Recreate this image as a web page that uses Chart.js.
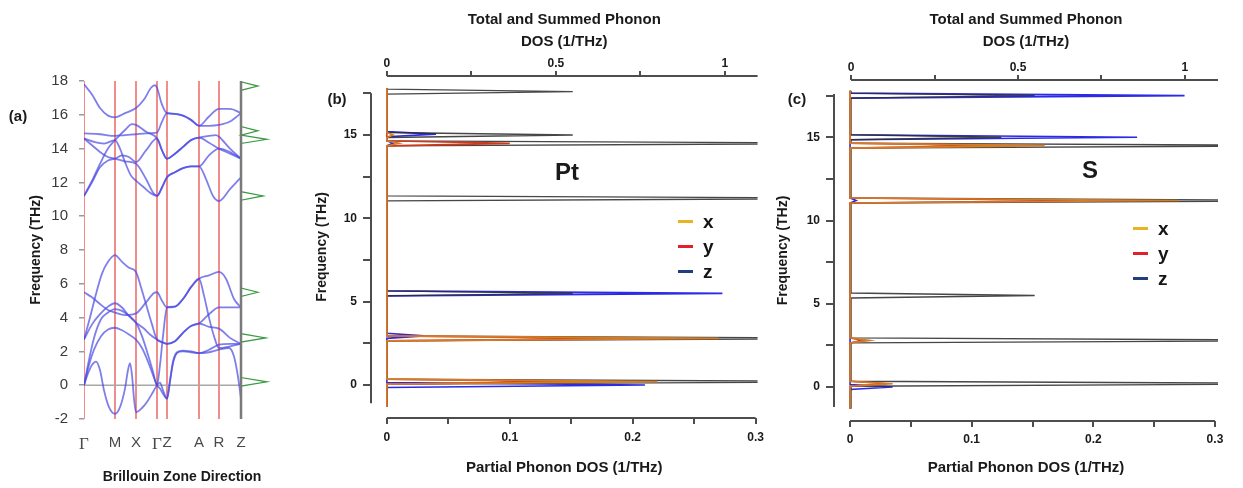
<!DOCTYPE html>
<html>
<head>
<meta charset="utf-8">
<title>PtS2 phonons</title>
<script src="https://cdn.jsdelivr.net/npm/chart.js@4.4.1/dist/chart.umd.min.js"></script>
<style>
  body { margin: 0; background: #fff; font-family: "Liberation Sans", Arial, sans-serif; }
  #wrap { position: relative; width: 1243px; height: 488px; overflow: hidden; background: #fff; }
  #wrap canvas { position: absolute; top: 0; }
  .lbl { position: absolute; transform: translate(-50%, -50%); font-weight: bold; color: #1a1a1a; white-space: nowrap; }
  .legend { position: absolute; font-weight: bold; font-size: 19px; color: #151515; }
  .legend div { height: 25px; line-height: 25px; display: flex; align-items: center; }
  .legend span.sw { display: inline-block; width: 15px; height: 3px; margin-right: 10px; }
</style>
</head>
<body>
<div id="wrap">
  <canvas id="bands" width="300" height="488" style="left:0px"></canvas>
  <canvas id="dosPt" width="470" height="488" style="left:300px"></canvas>
  <canvas id="dosS" width="473" height="488" style="left:770px"></canvas>
  <div class="lbl" style="left:18px;top:115px;font-size:15px">(a)</div>
  <div class="lbl" style="left:337px;top:98px;font-size:15px">(b)</div>
  <div class="lbl" style="left:797px;top:98px;font-size:15px">(c)</div>
  <div class="lbl" style="left:567px;top:172px;font-size:24px">Pt</div>
  <div class="lbl" style="left:1090px;top:170px;font-size:24px">S</div>
  <div class="legend" id="legPt" style="left:678px;top:209px"></div>
  <div class="legend" id="legS" style="left:1133px;top:216px"></div>
</div>
<script>
// ---- (a) dispersion along the high-symmetry path ----
const kPath = [0, 31, 52, 73, 83, 115, 135, 157];
const kNames = ['Γ', 'M', 'X', 'Γ', 'Z', 'A', 'R', 'Z'];
const freqTicksA = [-2, 0, 2, 4, 6, 8, 10, 12, 14, 16, 18];

// acoustic / low optical branches, [k, THz]
const bandL1 = [[0,0],[4,0.7],[8,1.2],[12,1.4],[16,0.9],[20,-0.3],[25,-1.3],[31,-1.7],[36,-1.3],[41,-0.2],[44,0.9],[46,1.3],[48,0.6],[50,-0.8],[52,-1.6],[58,-1.35],[64,-0.9],[69,-0.4],[73,0],[76,0.15],[79,-0.3],[83,-0.8],[86,0.2],[89,1.4],[93,1.95],[99,2.05],[107,2.0],[115,1.9],[125,1.95],[135,2.1],[145,2.2],[150,1.7],[154,0.5],[157,-0.8]];
const bandL2 = [[0,0],[5,1.2],[10,2.1],[17,2.9],[24,3.3],[31,3.4],[38,3.25],[45,3.0],[52,2.7],[58,2.2],[64,1.4],[69,0.6],[73,0],[76,-0.2],[79,-0.5],[83,-0.8],[86,0.3],[89,1.3],[93,1.9],[99,2.0],[107,1.95],[115,1.9],[125,2.1],[135,2.4],[146,2.45],[157,2.45]];
const bandL3 = [[0,0],[5,1.5],[10,2.8],[17,3.9],[24,4.3],[31,4.5],[38,4.4],[45,4.1],[52,3.7],[58,2.9],[64,1.8],[69,0.8],[73,0],[76,1.2],[79,2.9],[83,4.6],[91,4.65],[99,5.1],[107,5.8],[115,6.3],[120,5.3],[125,4.0],[130,2.9],[135,2.2],[146,2.3],[157,2.45]];
const bandL4 = [[0,2.7],[8,3.6],[16,4.2],[24,4.65],[31,4.85],[38,4.6],[45,4.1],[52,3.7],[59,3.4],[66,3.0],[73,2.7],[78,2.55],[83,2.45],[91,2.6],[99,3.1],[107,3.5],[115,3.65],[125,4.2],[135,4.6],[146,4.6],[157,4.6]];
const bandL5 = [[0,5.5],[8,5.2],[16,4.8],[24,4.45],[31,4.3],[41,4.15],[52,4.25],[62,4.9],[70,5.45],[73,5.5],[78,5.0],[83,4.6],[91,4.65],[99,5.1],[107,5.8],[115,6.3],[125,6.5],[135,6.7],[142,6.3],[150,5.1],[157,4.6]];
const bandL6 = [[0,2.7],[6,4.0],[12,5.4],[18,6.6],[24,7.3],[31,7.7],[38,7.3],[45,6.95],[52,6.7],[57,5.8],[62,4.8],[68,3.6],[73,2.7],[78,2.55],[83,2.45],[91,2.6],[99,3.1],[107,3.5],[115,3.65],[125,3.45],[135,3.35],[146,2.8],[157,2.45]];
// high optical branches
const bandH1 = [[0,17.8],[8,17.2],[16,16.4],[24,15.95],[31,15.85],[41,16.1],[52,16.4],[60,16.9],[67,17.6],[71,17.75],[73,17.6],[78,16.6],[83,16.1],[91,16.05],[99,15.95],[107,15.7],[115,15.35],[125,15.9],[135,16.35],[146,16.35],[157,16.1]];
const bandH2 = [[0,14.9],[16,14.85],[31,14.75],[41,14.8],[52,14.85],[62,14.9],[73,14.95],[78,15.6],[83,16.1],[91,16.05],[99,15.95],[107,15.7],[115,15.35],[125,15.35],[135,15.4],[146,15.6],[157,16.1]];
const bandH3 = [[0,11.2],[8,12.1],[16,13.1],[24,14.0],[31,14.5],[41,15.1],[48,15.45],[52,15.4],[62,15.0],[73,14.6],[78,13.9],[83,13.4],[91,13.7],[99,14.1],[107,14.5],[115,14.65],[125,14.75],[132,14.8],[135,14.7],[146,14.0],[157,13.4]];
const bandH4 = [[0,14.6],[8,14.2],[16,13.8],[24,13.5],[31,13.4],[41,13.25],[52,13.1],[62,12.2],[69,11.4],[73,11.2],[78,11.7],[83,12.3],[91,12.6],[99,12.85],[107,12.95],[115,12.95],[122,12.2],[129,11.2],[135,10.9],[146,11.6],[157,12.3]];
const bandH5 = [[0,14.6],[10,14.4],[20,14.3],[31,14.5],[36,14.0],[41,13.2],[47,12.4],[52,12.1],[60,11.7],[67,11.35],[73,11.2],[78,11.7],[83,12.3],[91,12.6],[99,12.85],[107,12.95],[115,12.95],[125,13.6],[135,14.0],[146,13.8],[157,13.4]];
const bandH6 = [[0,11.2],[8,12.0],[16,12.9],[24,13.3],[31,13.4],[38,13.6],[45,13.5],[52,13.2],[62,13.9],[73,14.6],[78,13.9],[83,13.4],[91,13.7],[99,14.1],[107,14.5],[115,14.65],[125,14.35],[135,14.0],[146,13.7],[157,13.4]];
const bands = [bandL1, bandL2, bandL3, bandL4, bandL5, bandL6, bandH1, bandH2, bandH3, bandH4, bandH5, bandH6];

// total DOS drawn beside the dispersion (relative units)
const dosFreqA = [0.2, 2.8, 5.5, 11.2, 14.55, 15.05, 17.7];
const dosPeakA = [1.0, 0.95, 0.65, 0.85, 1.0, 0.65, 0.65];

// ---- (b) Pt and (c) S projected DOS ----
const components = ['x', 'y', 'z'];
const ptFreq  = [0.2, 2.8, 5.5, 11.2, 14.5, 15.0, 17.6];
const ptFreqZ = [0.0, 2.95, 5.5, 11.2, 14.5, 15.05, 17.6];
const ptTotal = [1.5, 1.5, 0.55, 1.5, 1.5, 0.55, 0.55];
const ptX     = [0.22, 0.27, 0, 0, 0.01, 0.005, 0];
const ptY     = [0.15, 0.2, 0, 0, 0.1, 0, 0];
const ptZ     = [0.21, 0.03, 0.273, 0, 0.005, 0.04, 0];
const ptSpan  = [-1.3, 17.8];

const sFreq  = [0.2, 2.8, 5.5, 11.2, 14.5, 15.0, 17.5];
const sFreqZ = [0.0, 2.8, 5.5, 11.2, 14.5, 15.0, 17.5];
const sTotal = [1.5, 1.5, 0.55, 1.5, 1.5, 0.45, 0.55];
const sX     = [0.035, 0.016, 0, 0.27, 0.16, 0, 0];
const sY     = [0.03, 0.01, 0, 0.2, 0.12, 0, 0];
const sZ     = [0.035, 0, 0, 0.005, 0, 0.236, 0.275];
const sSpan  = [-1.3, 17.8];

const freqTicksDos = [0, 2.5, 5, 7.5, 10, 12.5, 15, 17.5];
const partialTicks = [0, 0.05, 0.1, 0.15, 0.2, 0.25, 0.3];
const partialLabels = [0, 0.1, 0.2, 0.3];
const totalTicks = [0, 0.25, 0.5, 0.75, 1];
const totalLabels = [0, 0.5, 1];

// -------------------------------------------------------------
const sans = 'Liberation Sans';
const axisColor = '#4d4d4d';
const spikeColors = { x: '#d47c26', y: '#cc3a1c', z: '#2b2be6' };
const legendColors = { x: '#e8b424', y: '#e2202a', z: '#1f3f7f' };

// a DOS curve made of narrow peaks on a zero baseline, walked along frequency
function spikes(freqs, heights, span, hw) {
  const pts = [{ x: 0, y: span[0] }];
  freqs.forEach((f, i) => {
    pts.push({ x: 0, y: f - hw }, { x: heights[i], y: f }, { x: 0, y: f + hw });
  });
  pts.push({ x: 0, y: span[1] });
  return pts;
}

function line(pts, color, width, extra) {
  return Object.assign({
    data: pts.map(p => Array.isArray(p) ? { x: p[0], y: p[1] } : p),
    showLine: true, pointRadius: 0, fill: false,
    borderColor: color, borderWidth: width
  }, extra || {});
}

Chart.defaults.font.family = sans;
Chart.defaults.animation = false;
Chart.defaults.events = [];
Chart.defaults.plugins.legend.display = false;
Chart.defaults.plugins.tooltip.enabled = false;

// ---- panel (a) ----
const kMax = 196, dosPx = 26;
const kEnd = kPath[kPath.length - 1];
const aSets = [];
kPath.slice(0, -1).forEach(k => aSets.push(line([[k, -2], [k, 18]], 'rgba(236,96,96,0.8)', 1.8, { order: 5 })));
aSets.push(line([[0, 0], [kEnd, 0]], '#a8a8a8', 1.5, { order: 4 }));
bands.forEach(b => aSets.push(line(b, 'rgba(72,72,226,0.7)', 1.8, { order: 3, cubicInterpolationMode: 'monotone' })));
aSets.push(line(spikes(dosFreqA, dosPeakA, [-2, 18], 0.25), '#3c9a44', 1.2, { order: 2, xAxisID: 'xd' }));
aSets.push(line([[kEnd, -2], [kEnd, 18]], '#7a7a7a', 2.5, { order: 1 }));

new Chart(document.getElementById('bands'), {
  type: 'scatter',
  data: { datasets: aSets },
  options: {
    responsive: false, devicePixelRatio: 1,
    layout: { padding: { top: 81, right: 300 - 84 - kMax, left: 0, bottom: 0 } },
    scales: {
      x: {
        type: 'linear', min: 0, max: kMax,
        afterBuildTicks: s => { s.ticks = kPath.map(v => ({ value: v })); },
        afterFit: s => { s.height = 69; },
        grid: { display: false, drawTicks: false }, border: { display: false },
        ticks: {
          autoSkip: false, maxRotation: 0, padding: 15, color: '#4a4a4a',
          callback: (v, i) => kNames[i],
          font: c => kNames[c.index] === 'Γ' ? { family: 'Liberation Serif', size: 17 } : { family: sans, size: 15 }
        },
        title: { display: true, text: 'Brillouin Zone Direction', color: '#1a1a1a',
                 font: { family: sans, size: 14, weight: 'bold' }, padding: { top: 0, bottom: 2 } }
      },
      xd: { type: 'linear', display: false, min: -kEnd / dosPx, max: (kMax - kEnd) / dosPx },
      y: {
        min: -2, max: 18,
        afterBuildTicks: s => { s.ticks = freqTicksA.map(v => ({ value: v })); },
        afterFit: s => { s.width = 84; },
        grid: { drawOnChartArea: false, tickLength: 5, color: '#9a9a9a', lineWidth: 1.5 },
        border: { display: false },
        ticks: { padding: 11, color: '#3a3a3a', font: { family: sans, size: 15 } },
        title: { display: true, text: 'Frequency (THz)', color: '#1a1a1a',
                 font: { family: sans, size: 14, weight: 'bold' }, padding: { top: 28, bottom: 0 } }
      }
    }
  }
});

// ---- panels (b), (c) ----
const floatingAxes = {
  id: 'floatingAxes',
  beforeDatasetsDraw(chart, args, opts) {
    const { ctx, chartArea: a, scales } = chart;
    ctx.save();
    ctx.strokeStyle = axisColor;
    ctx.lineWidth = 2;
    ctx.beginPath();
    ctx.moveTo(a.left, scales.y.getPixelForValue(opts.yFrom));
    ctx.lineTo(a.left, scales.y.getPixelForValue(opts.yTo));
    ctx.moveTo(scales.x.getPixelForValue(0), a.bottom);
    ctx.lineTo(scales.x.getPixelForValue(0.3), a.bottom);
    ctx.moveTo(scales.x2.getPixelForValue(0), a.top);
    ctx.lineTo(a.right, a.top);
    ctx.stroke();
    ctx.restore();
  }
};

function dosChart(id, freqs, freqsZ, total, px, py, pz, span, g) {
  const hw = 0.15;
  // z lies underneath the total; x and y sit on top of it
  const sets = [
    line(spikes(freqsZ, pz, span, hw), spikeColors.z, 1.6, { label: 'z', xAxisID: 'x', order: 4 }),
    line(spikes(freqs, total, span, hw), 'rgba(45,45,45,0.88)', 1.4, { label: 'total', xAxisID: 'x2', order: 3 }),
    line(spikes(freqs, py, span, hw), spikeColors.y, 1.6, { label: 'y', xAxisID: 'x', order: 2 }),
    line(spikes(freqs, px, span, hw), spikeColors.x, 1.6, { label: 'x', xAxisID: 'x', order: 1 })
  ];
  const tickFont = { family: sans, size: 12, weight: 'bold' };
  const titleFont = { family: sans, size: 15, weight: 'bold' };
  const grid = len => ({ drawOnChartArea: false, tickLength: len, color: axisColor, lineWidth: 2 });
  return new Chart(document.getElementById(id), {
    type: 'scatter',
    data: { datasets: sets },
    plugins: [floatingAxes],
    options: {
      responsive: false, devicePixelRatio: 1,
      layout: { padding: { top: 0, right: g.padRight, left: 0, bottom: 0 } },
      plugins: { floatingAxes: { yFrom: g.axisY[0], yTo: g.axisY[1] } },
      scales: {
        x: {
          type: 'linear', position: 'bottom', min: g.x[0], max: g.x[1],
          afterBuildTicks: s => { s.ticks = partialTicks.map(v => ({ value: v })); },
          afterFit: s => { s.height = g.bottomH; },
          grid: grid(6), border: { display: false },
          ticks: { autoSkip: false, maxRotation: 0, padding: g.bottomPad, color: '#1a1a1a', font: tickFont,
                   callback: v => partialLabels.includes(v) ? String(v) : '' },
          title: { display: true, text: 'Partial Phonon DOS (1/THz)', color: '#1a1a1a', font: titleFont,
                   padding: { top: 0, bottom: 11 } }
        },
        x2: {
          type: 'linear', position: 'top', min: g.x2[0], max: g.x2[1],
          afterBuildTicks: s => { s.ticks = totalTicks.map(v => ({ value: v })); },
          afterFit: s => { s.height = g.topH; },
          grid: grid(5), border: { display: false },
          ticks: { autoSkip: false, maxRotation: 0, padding: 0, color: '#1a1a1a', font: tickFont,
                   callback: v => totalLabels.includes(v) ? String(v) : '' },
          title: { display: true, text: ['Total and Summed Phonon', 'DOS (1/THz)'], color: '#1a1a1a',
                   font: Object.assign({ lineHeight: '22px' }, titleFont), padding: { top: 9, bottom: 0 } }
        },
        y: {
          min: g.y[0], max: g.y[1],
          afterBuildTicks: s => { s.ticks = freqTicksDos.map(v => ({ value: v })); },
          afterFit: s => { s.width = g.leftW; },
          grid: grid(8), border: { display: false },
          ticks: { padding: 6, color: '#1a1a1a', font: tickFont, callback: v => v % 5 === 0 ? String(v) : '' },
          title: { display: true, text: 'Frequency (THz)', color: '#1a1a1a',
                   font: { family: sans, size: 14, weight: 'bold' }, padding: { top: g.yTitlePad, bottom: 0 } }
        }
      }
    }
  });
}

dosChart('dosPt', ptFreq, ptFreqZ, ptTotal, ptX, ptY, ptZ, ptSpan, {
  padRight: 8, leftW: 71, topH: 76, bottomH: 70, bottomPad: 6, yTitlePad: 13.6,
  x: [-0.0129, 0.3016], x2: [-0.047, 1.097], y: [-1.98, 18.54], axisY: [-1.1, 17.5]
});
dosChart('dosS', sFreq, sFreqZ, sTotal, sX, sY, sZ, sSpan, {
  padRight: 25, leftW: 64, topH: 80, bottomH: 67, bottomPad: 5, yTitlePad: 4.6,
  x: [-0.0132, 0.3025], x2: [-0.051, 1.099], y: [-2.04, 18.44], axisY: [-1.2, 17.6]
});

// legends for the projected components
function legend(id) {
  const box = document.getElementById(id);
  components.forEach(c => {
    const row = document.createElement('div');
    const sw = document.createElement('span');
    sw.className = 'sw';
    sw.style.background = legendColors[c];
    row.appendChild(sw);
    row.appendChild(document.createTextNode(c));
    box.appendChild(row);
  });
}
legend('legPt');
legend('legS');
</script>
</body>
</html>
